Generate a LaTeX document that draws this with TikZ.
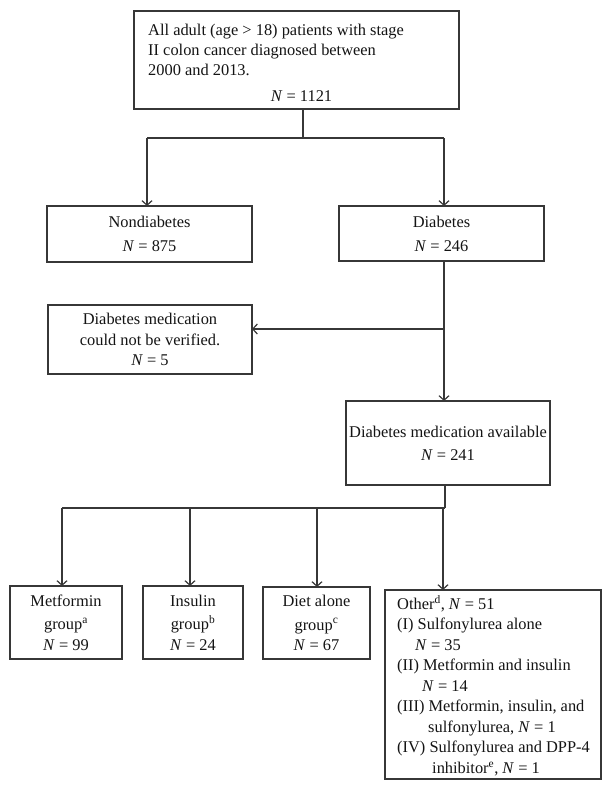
\documentclass[tikz,border=0pt]{standalone}
\usepackage{fontspec}
\setmainfont{Liberation Serif}
\usetikzlibrary{arrows.meta}
\definecolor{ln}{RGB}{55,55,55}
\definecolor{tx}{RGB}{20,20,20}
\begin{document}
\begin{tikzpicture}[x=1pt,y=-1pt,
  box/.style={draw=ln, line width=1.3pt, rectangle, inner sep=0pt, outer sep=0pt},
  txt/.style={font=\fontsize{16.4}{20.5}\selectfont, inner sep=0pt, align=center, text=tx},
  conn/.style={draw=ln, line width=1.2pt},
  arr/.style={conn, -{Straight Barb[length=4.5pt,width=10pt]}}]
\useasboundingbox[fill=white] (0,0) rectangle (611,797);

% boxes
\node[box, minimum width=325pt, minimum height=98pt] (top) at (296.5,60) {};
\node[txt, align=left, anchor=north west, font=\fontsize{16.4}{20}\selectfont] (toptext) at (148,23.5)
  {All adult (age > 18) patients with stage\\II colon cancer diagnosed between\\2000 and 2013.};
\node[txt, anchor=base] (topn) at (301.5,102) {\textit{N} = 1121};

\node[box, txt, minimum width=205pt, minimum height=56pt] (nondia) at (149.5,234)
  {Nondiabetes\\[3.5pt]\textit{N} = 875};
\node[box, txt, minimum width=205pt, minimum height=55pt] (dia) at (441.5,233.5)
  {Diabetes\\[3.5pt]\textit{N} = 246};
\node[box, txt, minimum width=204pt, minimum height=69pt] (notver) at (150,339.5)
  {Diabetes medication\\could not be verified.\\\textit{N} = 5};
\node[box, txt, minimum width=204pt, minimum height=84pt] (avail) at (448,443)
  {Diabetes medication available\\[2.5pt]\textit{N} = 241};

\node[box, txt, minimum width=112pt, minimum height=73pt] (met) at (66,622.5)
  {Metformin\\[3pt]group\textsuperscript{a}\\\textit{N} = 99};
\node[box, txt, minimum width=100pt, minimum height=73pt] (ins) at (193,622.5)
  {Insulin\\[3pt]group\textsuperscript{b}\\\textit{N} = 24};
\node[box, txt, minimum width=107pt, minimum height=72pt] (diet) at (316.5,623)
  {Diet alone\\[3pt]group\textsuperscript{c}\\\textit{N} = 67};
\node[box, minimum width=216pt, minimum height=189pt] (oth) at (493,684.5) {};
\node[txt, align=left, anchor=north west, font=\fontsize{16.4}{20.5}\selectfont] (othtext) at (397,595)
  {Other\textsuperscript{d}, \textit{N} = 51\\
   (I) Sulfonylurea alone\\
   \hspace*{18pt}\textit{N} = 35\\
   (II) Metformin and insulin\\
   \hspace*{25pt}\textit{N} = 14\\
   (III) Metformin, insulin, and\\
   \hspace*{31pt}sulfonylurea, \textit{N} = 1\\
   (IV) Sulfonylurea and DPP-4\\
   \hspace*{35pt}inhibitor\textsuperscript{e}, \textit{N} = 1};

% junctions
\coordinate (j1) at (303,138);
\coordinate (jl) at (147,138);
\coordinate (jr) at (444,138);
\coordinate (j2) at (444,329);
\coordinate (j3) at (445,508);
\coordinate (d1) at (62,508);
\coordinate (d2) at (190,508);
\coordinate (d3) at (317,508);
\coordinate (d4) at (443,508);

% connectors
\draw[conn] (j1 |- top.south) -- (j1);
\draw[conn] (jl) -- (jr);
\draw[arr] (jl) -- (jl |- nondia.north);
\draw[arr] (jr) -- (jr |- dia.north);
\draw[arr] (j2 |- dia.south) -- (j2 |- avail.north);
\draw[arr] (j2) -- (j2 -| notver.east);
\draw[conn] (j3 |- avail.south) -- (j3);
\draw[conn] (d1) -- (j3);
\draw[arr] (d1) -- (d1 |- met.north);
\draw[arr] (d2) -- (d2 |- ins.north);
\draw[arr] (d3) -- (d3 |- diet.north);
\draw[arr] (d4) -- (d4 |- oth.north);
\end{tikzpicture}
\end{document}
